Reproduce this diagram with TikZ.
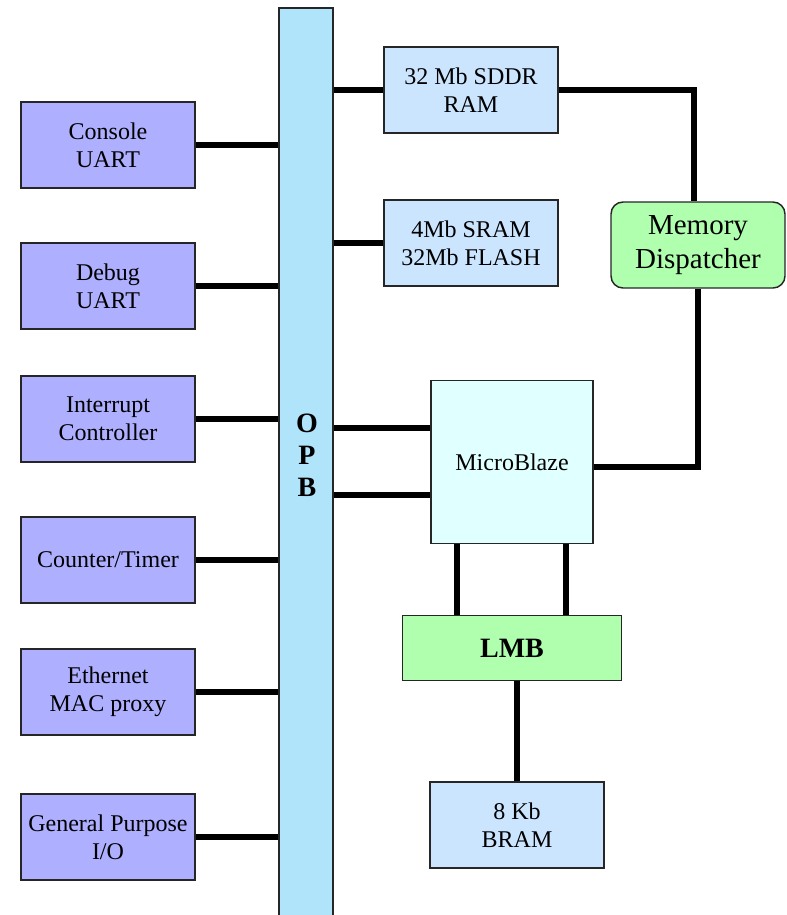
\documentclass[tikz,border=0pt]{standalone}
\usepackage{fontspec}
\setmainfont{Liberation Serif}
\usepackage{amsmath}
\usetikzlibrary{calc}

\definecolor{periph}{RGB}{175,175,255}
\definecolor{opbblue}{RGB}{176,228,250}
\definecolor{memblue}{RGB}{204,229,255}
\definecolor{lmbgreen}{RGB}{175,255,175}
\definecolor{cpucyan}{RGB}{224,255,255}

\begin{document}
\begin{tikzpicture}[x=0.75pt,y=0.75pt,yscale=-1,xscale=1,
  box/.style={draw=black!85,line width=1.1pt,inner sep=0pt,align=center,
    font=\fontsize{18}{21}\selectfont},
  periphbox/.style={box,fill=periph,minimum width=130.5pt,minimum height=64.5pt},
  membox/.style={box,fill=memblue,minimum width=130.5pt,minimum height=64.5pt},
  wire/.style={line width=4pt}]
\useasboundingbox (0,0) rectangle (787,915);
%Shape: Rectangle [OPB bus]
\node [draw=black!85,line width=1.1pt,fill=opbblue,minimum width=40.5pt,minimum height=693pt,inner sep=0pt] (opb) at (306,470) {};
\node [font=\fontsize{21}{24}\selectfont\bfseries,align=center] (opblabel) at (307,455) {O\\P\\B};
%Shapes: Peripherals
\node [periphbox] (console) at (108,145) {Console\\UART};
\node [periphbox] (debug) at (108,286) {Debug\\UART};
\node [periphbox] (intc) at (108,419) {Interrupt\\Controller};
\node [periphbox] (timer) at (108,560) {Counter/Timer};
\node [periphbox] (ether) at (108,692) {Ethernet\\MAC proxy};
\node [periphbox] (gpio) at (108,837) {General Purpose\\I/O};
%Shapes: Memories
\node [membox] (sddr) at (471,90) {32 Mb SDDR\\RAM};
\node [membox] (sram) at (471,243) {4Mb SRAM\\32Mb FLASH};
\node [membox] (bram) at (517,825) {8 Kb\\BRAM};
%Shape: Rounded Rect [Memory Dispatcher]
\node [box,fill=lmbgreen,rounded corners=9pt,minimum width=130.5pt,minimum height=64.5pt,font=\fontsize{21.75}{25}\selectfont] (memdisp) at (698,245) {Memory\\Dispatcher};
%Shape: Rectangle [MicroBlaze]
\node [box,fill=cpucyan,minimum width=121.5pt,minimum height=122.25pt] (mblaze) at (512,462) {MicroBlaze};
%Shape: Rectangle [LMB]
\node [box,fill=lmbgreen,minimum width=164.25pt,minimum height=48.75pt,font=\fontsize{21}{24}\selectfont\bfseries] (lmb) at (512,648) {LMB};
%Straight Lines: peripherals to OPB
\foreach \p in {console,debug,intc,timer,ether,gpio}
  \draw [wire] (\p.east) -- (\p.east -| opb.west);
%Straight Lines: OPB to memories
\draw [wire] (sddr.west) -- (sddr.west -| opb.east);
\draw [wire] (sram.west) -- (sram.west -| opb.east);
\draw [wire] ([yshift=24.75pt]mblaze.west) -- ([yshift=24.75pt]mblaze.west -| opb.east);
\draw [wire] ([yshift=-25.5pt]mblaze.west) -- ([yshift=-25.5pt]mblaze.west -| opb.east);
%Straight Lines: memory dispatcher
\draw [wire] (sddr.east) -| ([xshift=-3pt]memdisp.north);
\draw [wire] ([yshift=3.75pt]mblaze.east) -| (memdisp.south);
%Straight Lines: local memory bus
\draw [wire] ([xshift=-41.25pt]mblaze.south) -- ([xshift=-41.25pt]mblaze.south |- lmb.north);
\draw [wire] ([xshift=40.5pt]mblaze.south) -- ([xshift=40.5pt]mblaze.south |- lmb.north);
\draw [wire] (bram.north) -- (bram.north |- lmb.south);
\end{tikzpicture}
\end{document}
